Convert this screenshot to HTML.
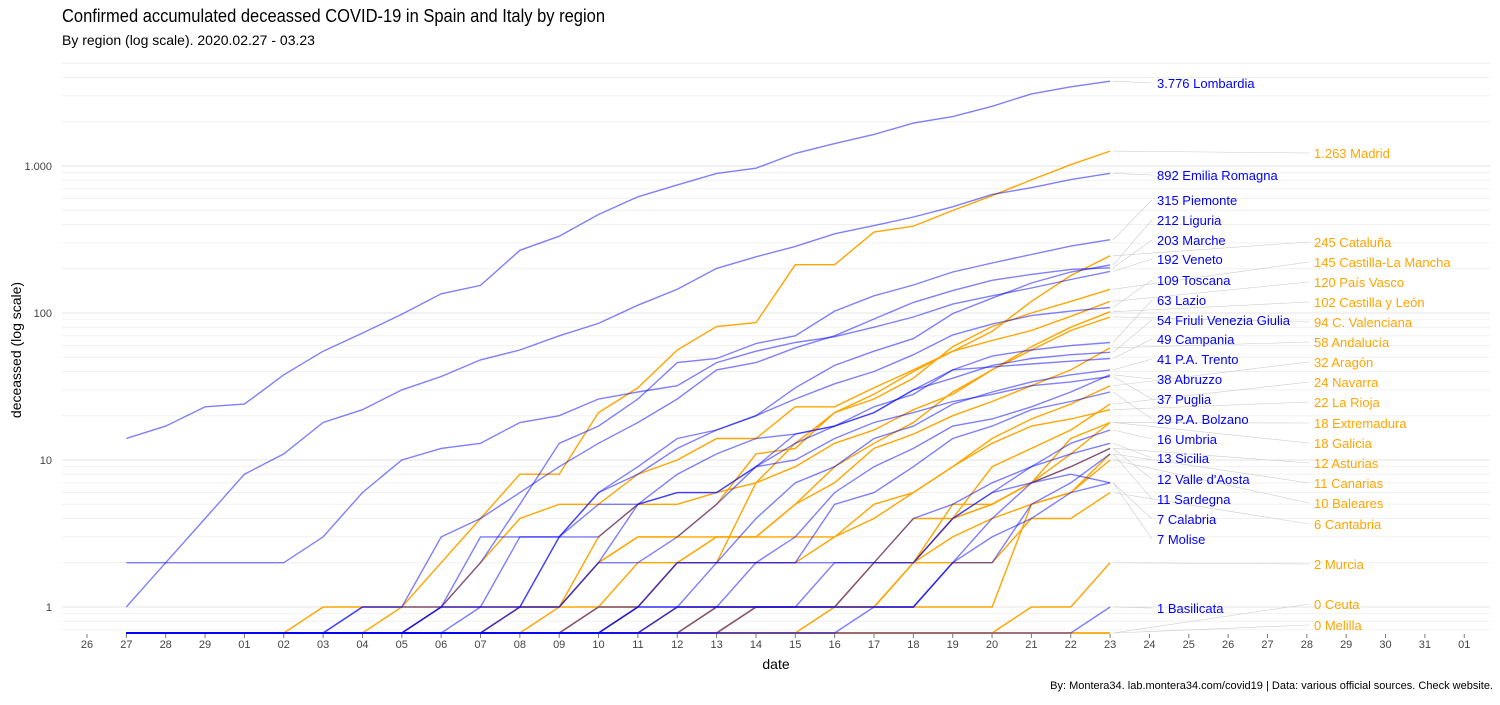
<!DOCTYPE html>
<html><head><meta charset="utf-8"><style>
body{margin:0;background:#fff;width:1500px;height:700px;overflow:hidden}
svg{font-family:"Liberation Sans",sans-serif}
</style></head><body>
<svg id="c" width="1500" height="700">
<text x="62" y="22" font-size="18" fill="#000" textLength="543" lengthAdjust="spacingAndGlyphs">Confirmed accumulated deceassed COVID-19 in Spain and Italy by region</text>
<text x="62" y="45" font-size="14" fill="#000">By region (log scale). 2020.02.27 - 03.23</text>
<text x="1493" y="689" font-size="11" text-anchor="end" fill="#000">By: Montera34. lab.montera34.com/covid19 | Data: various official sources. Check website.</text>
<text x="776" y="669" font-size="14" text-anchor="middle">date</text>
<text transform="translate(21,350) rotate(-90)" font-size="14" text-anchor="middle">deceassed (log scale)</text>
<g id="grid"></g><g id="ticks"></g><g id="conn"></g><g id="es"></g><g id="it"></g><g id="lab"></g>
</svg>
<script>
const dates=["26","27","28","29","01","02","03","04","05","06","07","08","09","10","11","12","13","14","15","16","17","18","19","20","21","22","23","24","25","26","27","28","29","30","31","01"];
const yTicks=[1,10,100,1000];
const yTickLabels=["1","10","100","1.000"];
const itNames=["Lombardia","Emilia Romagna","Piemonte","Liguria","Marche","Veneto","Toscana","Lazio","Friuli Venezia Giulia","Campania","P.A. Trento","Abruzzo","Puglia","P.A. Bolzano","Umbria","Sicilia","Valle d'Aosta","Sardegna","Calabria","Molise","Basilicata"];
const itLabels=["3.776","892","315","212","203","192","109","63","54","49","41","38","37","29","16","13","12","11","7","7","1"];
const itData=[
[14,17,23,24,38,55,73,98,135,154,267,333,468,617,744,890,966,1218,1420,1640,1959,2168,2549,3095,3456,3776],
[1,2,4,8,11,18,22,30,37,48,56,70,85,113,145,201,241,284,346,393,450,528,641,712,808,892],
[0,0,0,0,0,0,0,0,1,2,5,13,17,26,46,49,62,70,103,131,155,190,219,250,285,315],
[0,0,0,0,0,0,0,0,1,3,3,3,6,9,14,16,20,31,44,55,67,99,126,160,190,212],
[0,0,0,0,0,0,1,1,3,4,6,9,13,18,26,41,46,58,70,91,118,142,167,183,198,203],
[2,2,2,2,2,3,6,10,12,13,18,20,26,29,32,46,55,63,69,80,94,115,131,148,169,192],
[0,0,0,0,0,0,0,0,0,1,1,3,6,8,12,16,20,26,33,40,52,71,84,96,103,109],
[0,0,0,0,0,0,0,0,0,0,1,1,2,5,6,6,9,13,17,21,30,41,51,56,60,63],
[0,0,0,0,0,0,0,0,1,1,1,3,5,5,8,11,14,15,17,21,30,36,44,49,52,54],
[0,0,0,0,0,0,0,0,0,0,1,1,2,2,3,5,9,15,17,23,28,41,43,45,47,49],
[0,0,0,0,0,0,0,0,0,0,0,0,0,1,2,2,4,7,9,14,17,24,29,34,38,41],
[0,0,0,0,0,0,0,0,0,0,0,0,0,0,1,1,2,3,6,9,12,17,19,23,29,38],
[0,0,0,0,0,0,1,1,1,1,3,3,3,5,6,6,9,10,14,18,21,25,28,32,34,37],
[0,0,0,0,0,0,0,0,0,0,0,0,0,1,1,2,2,2,5,6,9,14,17,22,25,29],
[0,0,0,0,0,0,0,0,0,0,0,0,0,0,0,0,1,1,1,2,2,4,6,9,13,16],
[0,0,0,0,0,0,0,0,0,0,0,0,1,1,2,2,2,2,2,2,4,5,7,9,11,13],
[0,0,0,0,0,0,0,0,0,0,0,0,0,0,0,1,1,1,1,1,1,2,4,7,9,12],
[0,0,0,0,0,0,0,0,0,0,0,0,0,1,1,1,1,1,1,1,1,2,2,5,7,11],
[0,0,0,0,0,0,0,0,0,0,0,0,0,0,1,1,1,1,2,2,2,4,6,7,8,7],
[0,0,0,0,0,0,0,0,0,0,0,0,0,0,0,0,0,0,0,1,1,2,3,4,6,7],
[0,0,0,0,0,0,0,0,0,0,0,0,0,0,0,0,0,0,0,0,0,0,0,0,0,1]];
const itLabelY=[83,175,200,220,240,259,280,300,320,339,359,379,399,419,439,458,479,499,519,539,608];
const esNames=["Madrid","Cataluña","Castilla-La Mancha","País Vasco","Castilla y León","C. Valenciana","Andalucía","Aragón","Navarra","La Rioja","Extremadura","Galicia","Asturias","Canarias","Baleares","Cantabria","Murcia","Ceuta","Melilla"];
const esLabels=["1.263","245","145","120","102","94","58","32","24","22","18","18","12","11","10","6","2","0","0"];
const esData=[
[0,0,0,0,0,0,0,1,2,4,8,8,21,31,56,81,86,213,213,355,390,498,628,804,1021,1263],
[0,0,0,0,0,0,0,0,0,0,0,1,2,3,3,5,11,12,21,28,40,55,75,120,180,245],
[0,0,0,0,0,0,0,0,0,0,0,0,0,1,2,2,7,13,21,26,36,59,81,100,120,145],
[0,0,0,0,0,0,0,0,1,2,4,5,5,8,10,14,14,23,23,31,41,55,65,76,95,120],
[0,0,0,0,0,0,0,0,0,0,0,0,1,1,2,3,3,5,9,13,18,29,41,59,80,102],
[0,0,0,0,0,1,1,1,1,1,1,1,3,5,5,6,7,9,13,16,22,28,41,56,76,94],
[0,0,0,0,0,0,0,0,0,0,0,0,1,2,2,3,3,5,7,12,15,20,25,32,41,58],
[0,0,0,0,0,0,0,0,0,0,1,1,1,1,2,2,2,2,3,4,6,9,14,19,24,32],
[0,0,0,0,0,0,0,0,0,0,0,0,0,0,0,0,1,1,1,2,2,4,9,12,16,24],
[0,0,0,0,0,0,0,0,0,0,1,1,2,3,3,3,3,3,3,5,6,9,13,17,19,22],
[0,0,0,0,0,0,0,0,0,0,0,0,0,0,0,0,1,1,1,2,2,4,5,7,14,18],
[0,0,0,0,0,0,0,0,0,0,0,0,0,0,0,1,1,1,1,1,2,5,5,7,11,18],
[0,0,0,0,0,0,0,0,0,0,0,0,0,0,0,0,1,1,1,2,4,4,5,7,9,12],
[0,0,0,0,0,0,0,0,0,0,0,0,0,0,1,1,1,1,1,1,1,1,1,5,6,11],
[0,0,0,0,0,0,0,0,0,0,0,0,0,0,0,1,1,1,1,1,2,3,4,5,6,10],
[0,0,0,0,0,0,0,0,0,0,0,0,0,0,0,0,0,0,1,1,2,2,2,4,4,6],
[0,0,0,0,0,0,0,0,0,0,0,0,0,0,0,0,0,0,0,0,0,0,0,1,1,2],
[0,0,0,0,0,0,0,0,0,0,0,0,0,0,0,0,0,0,0,0,0,0,0,0,0,0],
[0,0,0,0,0,0,0,0,0,0,0,0,0,0,0,0,0,0,0,0,0,0,0,0,0,0]];
const esLabelY=[153,242,262,282,302,322,342,362,382,402,423,443,463,483,503,524,564,604,625];

const NS="http://www.w3.org/2000/svg";
const X0=87,DX=39.35,Y1=607,DEC=147,YMIN=633;
const xS=i=>X0+i*DX;
const yS=v=>v<=0?YMIN:Math.min(YMIN,Y1-Math.log10(v)*DEC);
function mk(t,a,p){const e=document.createElementNS(NS,t);for(const k in a)e.setAttribute(k,a[k]);p.appendChild(e);return e;}
const grid=document.getElementById('grid');
for(let k=-1;k<4;k++)for(let m=1;m<10;m++){const v=m*Math.pow(10,k);const y=Y1-Math.log10(v)*DEC;if(y>YMIN||y<60)continue;
 const l=mk('line',{x1:62,x2:1490,y1:y,y2:y,stroke:m==1?'#e4e4e4':'#f0f0f0','stroke-width':m==1?1.1:0.9},grid);
 
 }
const tk=document.getElementById('ticks');
yTicks.forEach((v,i)=>{const t=mk('text',{x:52,y:yS(v)+4,'font-size':11,'text-anchor':'end',fill:'#444'},tk);t.textContent=yTickLabels[i];
 
 });
dates.forEach((d,i)=>{const x=xS(i);const l=mk('line',{x1:x,x2:x,y1:634,y2:638,stroke:'#777'},tk);
 
 
 const t=mk('text',{x:x,y:648,'font-size':11,'text-anchor':'middle',fill:'#444'},tk);t.textContent=d;
 
 });
function draw(data,names,labels,labY,g,col,op,lx){
 const gg=document.getElementById(g),cn=document.getElementById('conn'),lb=document.getElementById('lab');
 data.forEach((s,j)=>{const pts=s.map((v,i)=>xS(i+1).toFixed(1)+','+yS(v).toFixed(1)).join(' ');
  const p=mk('polyline',{points:pts,fill:'none',stroke:col,'stroke-opacity':op,'stroke-width':1.4},gg);
  
  
  const ye=yS(s[s.length-1]),xe=xS(s.length);
  const c=mk('line',{x1:xe+3,y1:ye,x2:lx-5,y2:labY[j],stroke:'#ccc','stroke-width':0.6},cn);
  
  
  const t=mk('text',{x:lx,y:labY[j]+5,'font-size':13,fill:col},lb);t.textContent=labels[j]+' '+names[j];
  
  });
}
draw(esData,esNames,esLabels,esLabelY,'es','#ffa500',1,1314);
draw(itData,itNames,itLabels,itLabelY,'it','#0000ff',0.5,1157);
</script>
</body></html>
